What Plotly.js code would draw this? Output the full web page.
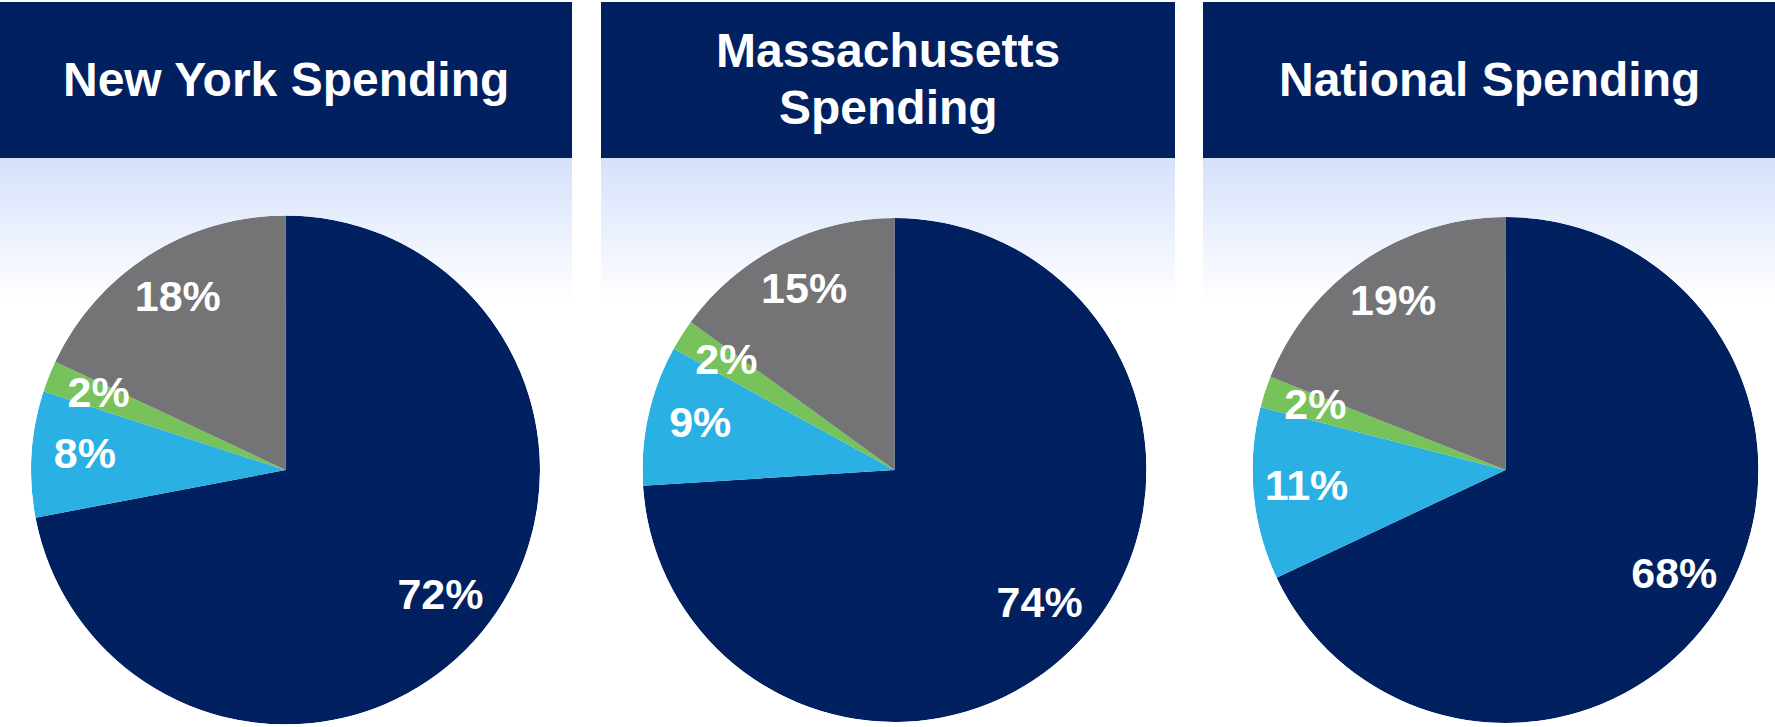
<!DOCTYPE html>
<html>
<head>
<meta charset="utf-8">
<script src="https://cdn.plot.ly/plotly-3.0.1.min.js"></script>
<style>
  html, body { margin: 0; padding: 0; background: #ffffff; }
  #wrap { position: relative; width: 1775px; height: 727px; overflow: hidden; background: #ffffff; }
  .grad { position: absolute; top: 158px; height: 145px;
          background: linear-gradient(to bottom, #D5E1FB 0%, #FFFFFF 100%); }
  #chart { position: absolute; left: 0; top: 0; width: 1775px; height: 727px; }
</style>
</head>
<body>
<div id="wrap">
  <div class="grad" style="left:0px;width:572px;"></div>
  <div class="grad" style="left:601px;width:574px;"></div>
  <div class="grad" style="left:1203px;width:572px;"></div>
  <div id="chart"></div>
</div>
<script>
// ---- data ----
const panelTitles = [['New York Spending'], ['Massachusetts', 'Spending'], ['National Spending']];
const categories = ['Segment A', 'Segment B', 'Segment C', 'Segment D'];
const newYorkValues = [72, 8, 2, 18];
const massachusettsValues = [74, 9, 2, 15];
const nationalValues = [68, 11, 2, 19];
const sliceColors = ['#002060', '#2BB0E4', '#77C25A', '#747476'];

// ---- layout geometry (pixels) ----
const W = 1775, H = 727;
const NAVY = '#002060';
const headers = [[0, 572], [601, 1175], [1203, 1775]];
const headerTop = 2, headerBottom = 158;
const lineGap = 57;
const pies = [
  {cx: 285.5, cy: 470, r: 254.5},
  {cx: 894.5, cy: 470, r: 252},
  {cx: 1505.5, cy: 470, r: 253}
];
const labelRadius = 0.79;
const FONT = 'Liberation Sans, Arial, Helvetica, sans-serif';

const seriesList = [newYorkValues, massachusettsValues, nationalValues];
const traces = [];
const layout = {
  width: W, height: H,
  margin: {l: 0, r: 0, t: 0, b: 0},
  paper_bgcolor: 'rgba(0,0,0,0)',
  plot_bgcolor: 'rgba(0,0,0,0)',
  showlegend: false,
  shapes: [],
  annotations: []
};

seriesList.forEach(function (vals, i) {
  const total = vals.reduce((a, b) => a + b, 0);
  const widths = vals.map(v => v / total * 360);
  const mids = [];
  let acc = 0;
  widths.forEach(function (w) { mids.push(acc + w / 2); acc += w; });
  const key = i === 0 ? 'polar' : 'polar' + (i + 1);
  const p = pies[i];
  layout[key] = {
    domain: {
      x: [(p.cx - p.r) / W, (p.cx + p.r) / W],
      y: [(H - (p.cy + p.r)) / H, (H - (p.cy - p.r)) / H]
    },
    bgcolor: 'rgba(0,0,0,0)',
    hole: 0,
    bargap: 0,
    radialaxis: {range: [0, 1], visible: false},
    angularaxis: {visible: false, rotation: 90, direction: 'clockwise', thetaunit: 'degrees'}
  };
  traces.push({
    type: 'barpolar',
    subplot: key,
    r: vals.map(() => 1),
    theta: mids,
    width: widths,
    text: categories,
    marker: {color: sliceColors, line: {width: 0}},
    hoverinfo: 'text'
  });
  traces.push({
    type: 'scatterpolar',
    subplot: key,
    mode: 'text',
    r: vals.map(() => labelRadius),
    theta: mids,
    text: vals.map(v => v + '%'),
    textposition: 'middle center',
    textfont: {family: FONT, size: 43, color: '#FFFFFF', weight: 'bold'},
    hoverinfo: 'skip'
  });

  const h = headers[i];
  layout.shapes.push({
    type: 'rect', xref: 'paper', yref: 'paper',
    x0: h[0] / W, x1: h[1] / W,
    y0: 1 - headerBottom / H, y1: 1 - headerTop / H,
    fillcolor: NAVY, line: {width: 0}, layer: 'below'
  });
  const lines = panelTitles[i];
  const midY = (headerTop + headerBottom) / 2 - 1;
  lines.forEach(function (line, j) {
    const yPix = midY + (j - (lines.length - 1) / 2) * lineGap;
    layout.annotations.push({
      xref: 'paper', yref: 'paper',
      x: (h[0] + h[1]) / 2 / W,
      y: 1 - yPix / H,
      xanchor: 'center', yanchor: 'middle',
      text: line,
      showarrow: false,
      font: {family: FONT, size: 48, color: '#FFFFFF', weight: 'bold'},
      align: 'center'
    });
  });
});

Plotly.newPlot('chart', traces, layout, {displayModeBar: false, staticPlot: true});
</script>
</body>
</html>
